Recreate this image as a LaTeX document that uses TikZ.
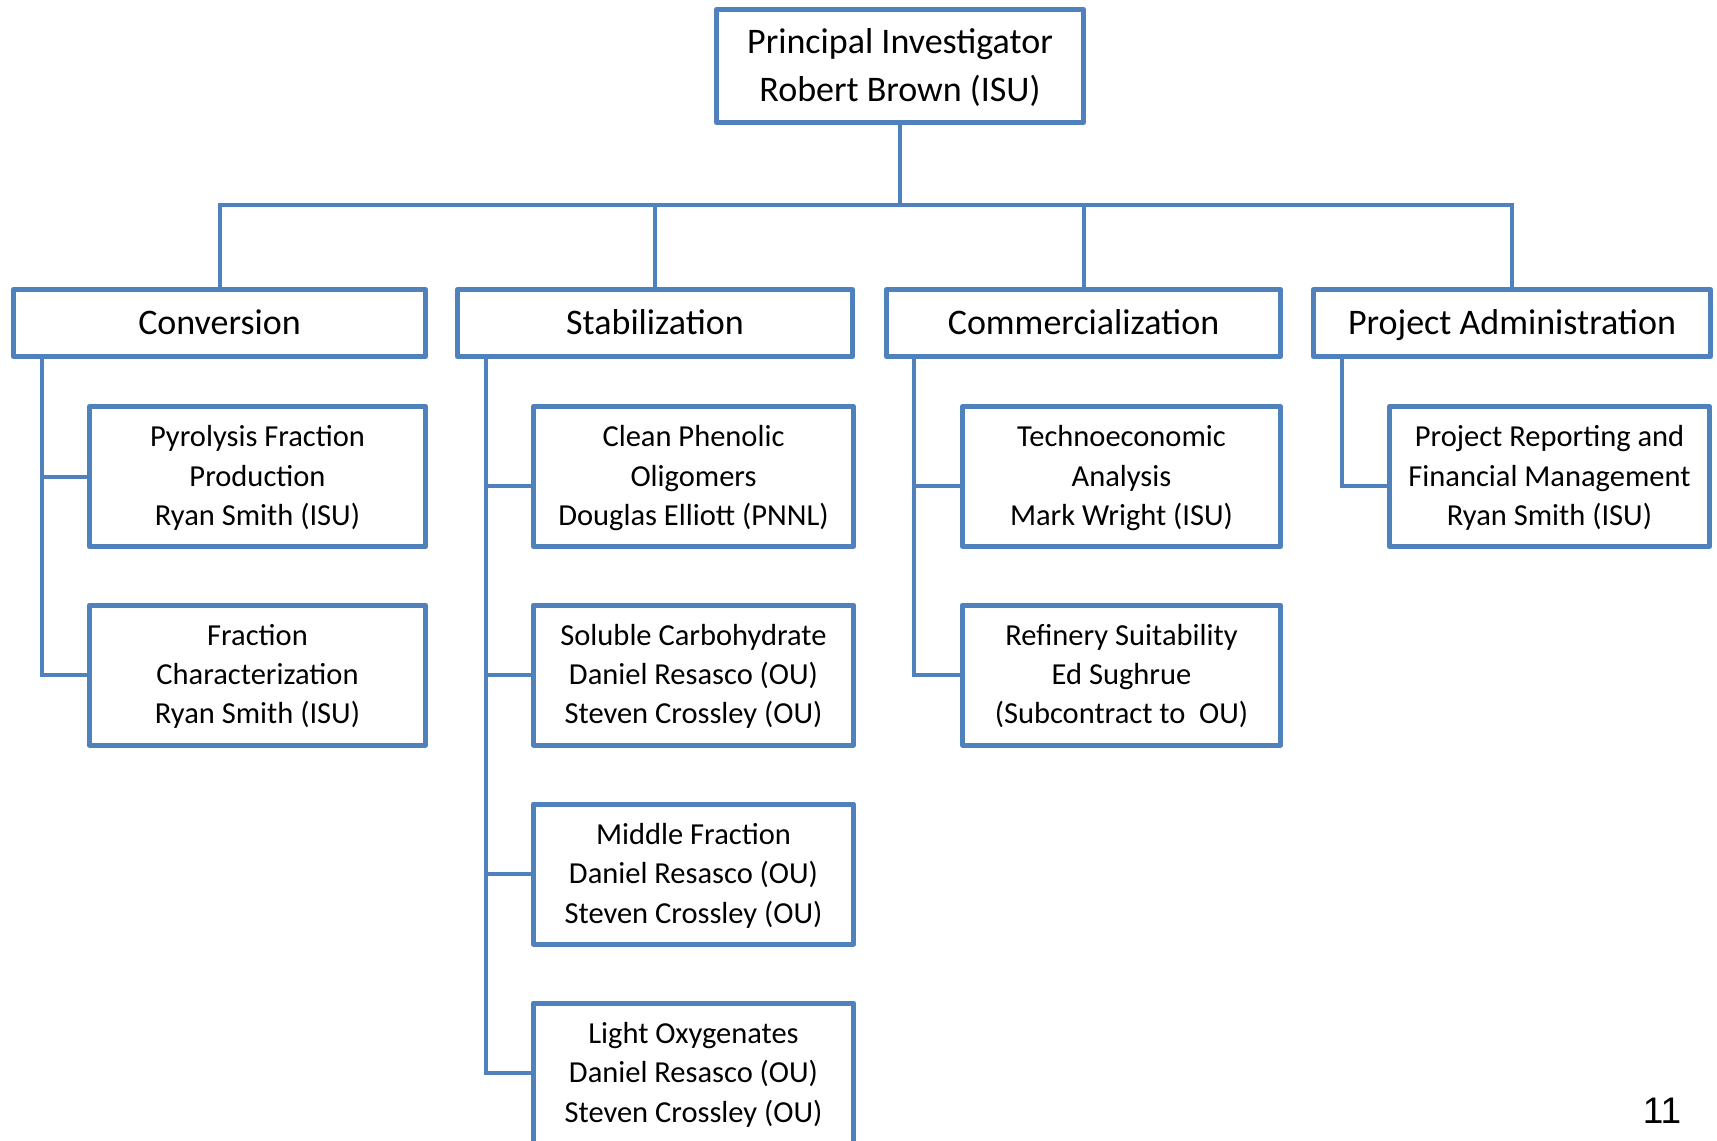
\documentclass[tikz,border=0pt]{standalone}
\usepackage{fontspec}
\setmainfont{Carlito}
\newfontfamily\numfont{Liberation Sans}
\usetikzlibrary{calc}
\definecolor{obl}{HTML}{4F81BD}
\tikzset{
  x=1pt, y=-1pt,
  box/.style={draw=obl, line width=5pt, line join=round, fill=white, inner sep=0pt, align=center, text=black},
  pibox/.style={box, minimum width=367pt, minimum height=113pt, text depth=2pt, font=\fontsize{36}{48}\selectfont},
  topbox/.style={box, minimum height=67pt, text height=23pt, text depth=0pt, font=\fontsize{36}{44}\selectfont},
  subbox/.style={box, minimum height=140pt, text depth=2pt, font=\fontsize{30.5}{39.4}\selectfont},
  conn/.style={draw=obl, line width=4pt}
}
\begin{document}
\begin{tikzpicture}
\useasboundingbox (0,0) rectangle (1717,1141);
\coordinate (bar) at (0,205);
\coordinate (cv) at (42,0);
\coordinate (sv) at (486,0);
\coordinate (mv) at (914,0);
\coordinate (av) at (1342,0);

\node[pibox] (pi) at (900,66) {Principal Investigator\\Robert Brown (ISU)};
\node[topbox, minimum width=412pt] (conv) at (219.5,323) {Conversion};
\node[topbox, minimum width=395pt] (stab) at (655,323) {Stabilization};
\node[topbox, minimum width=394pt] (comm) at (1083.5,323) {Commercialization};
\node[topbox, minimum width=397pt] (pa) at (1512,323) {Project Administration};

\draw[conn] (pi.south) -- (pi.south |- bar);
\draw[conn] (conv.north) -- (conv.north |- bar) -- (pa.north |- bar) -- (pa.north);
\draw[conn] (stab.north) -- (stab.north |- bar);
\draw[conn] (comm.north) -- (comm.north |- bar);

\node[subbox, minimum width=336pt] (c1) at (257.5,476.5) {Pyrolysis Fraction\\Production\\Ryan Smith (ISU)};
\node[subbox, minimum width=336pt] (c2) at (257.5,675) {Fraction\\Characterization\\Ryan Smith (ISU)};

\node[subbox, minimum width=320pt] (s1) at (693.5,476.5) {Clean Phenolic\\Oligomers\\Douglas Elliott (PNNL)};
\node[subbox, minimum width=320pt] (s2) at (693.5,675) {Soluble Carbohydrate\\Daniel Resasco (OU)\\Steven Crossley (OU)};
\node[subbox, minimum width=320pt] (s3) at (693.5,874) {Middle Fraction\\Daniel Resasco (OU)\\Steven Crossley (OU)};
\node[subbox, minimum width=320pt] (s4) at (693.5,1073) {Light Oxygenates\\Daniel Resasco (OU)\\Steven Crossley (OU)};

\node[subbox, minimum width=318pt] (m1) at (1121.5,476.5) {Technoeconomic\\Analysis\\Mark Wright (ISU)};
\node[subbox, minimum width=318pt] (m2) at (1121.5,675) {Refinery Suitability\\Ed Sughrue\\(Subcontract to\ \ OU)};

\node[subbox, minimum width=320pt] (a1) at (1549.5,476.5) {Project Reporting and\\Financial Management\\Ryan Smith (ISU)};

\draw[conn] (conv.south -| cv) -- (cv |- c2.west) -- (c2.west);
\draw[conn] (cv |- c1.west) -- (c1.west);

\draw[conn] (stab.south -| sv) -- (sv |- s4.west) -- (s4.west);
\draw[conn] ($(sv |- s1.west)+(0,9)$) -- ($(s1.west)+(0,9)$);
\draw[conn] (sv |- s2.west) -- (s2.west);
\draw[conn] (sv |- s3.west) -- (s3.west);

\draw[conn] (comm.south -| mv) -- (mv |- m2.west) -- (m2.west);
\draw[conn] ($(mv |- m1.west)+(0,9)$) -- ($(m1.west)+(0,9)$);

\draw[conn] (pa.south -| av) -- ($(av |- a1.west)+(0,9)$) -- ($(a1.west)+(0,9)$);

\node[inner sep=0pt, font=\numfont\fontsize{37}{44}\selectfont] (pg) at (1662,1111) {11};
\end{tikzpicture}
\end{document}
